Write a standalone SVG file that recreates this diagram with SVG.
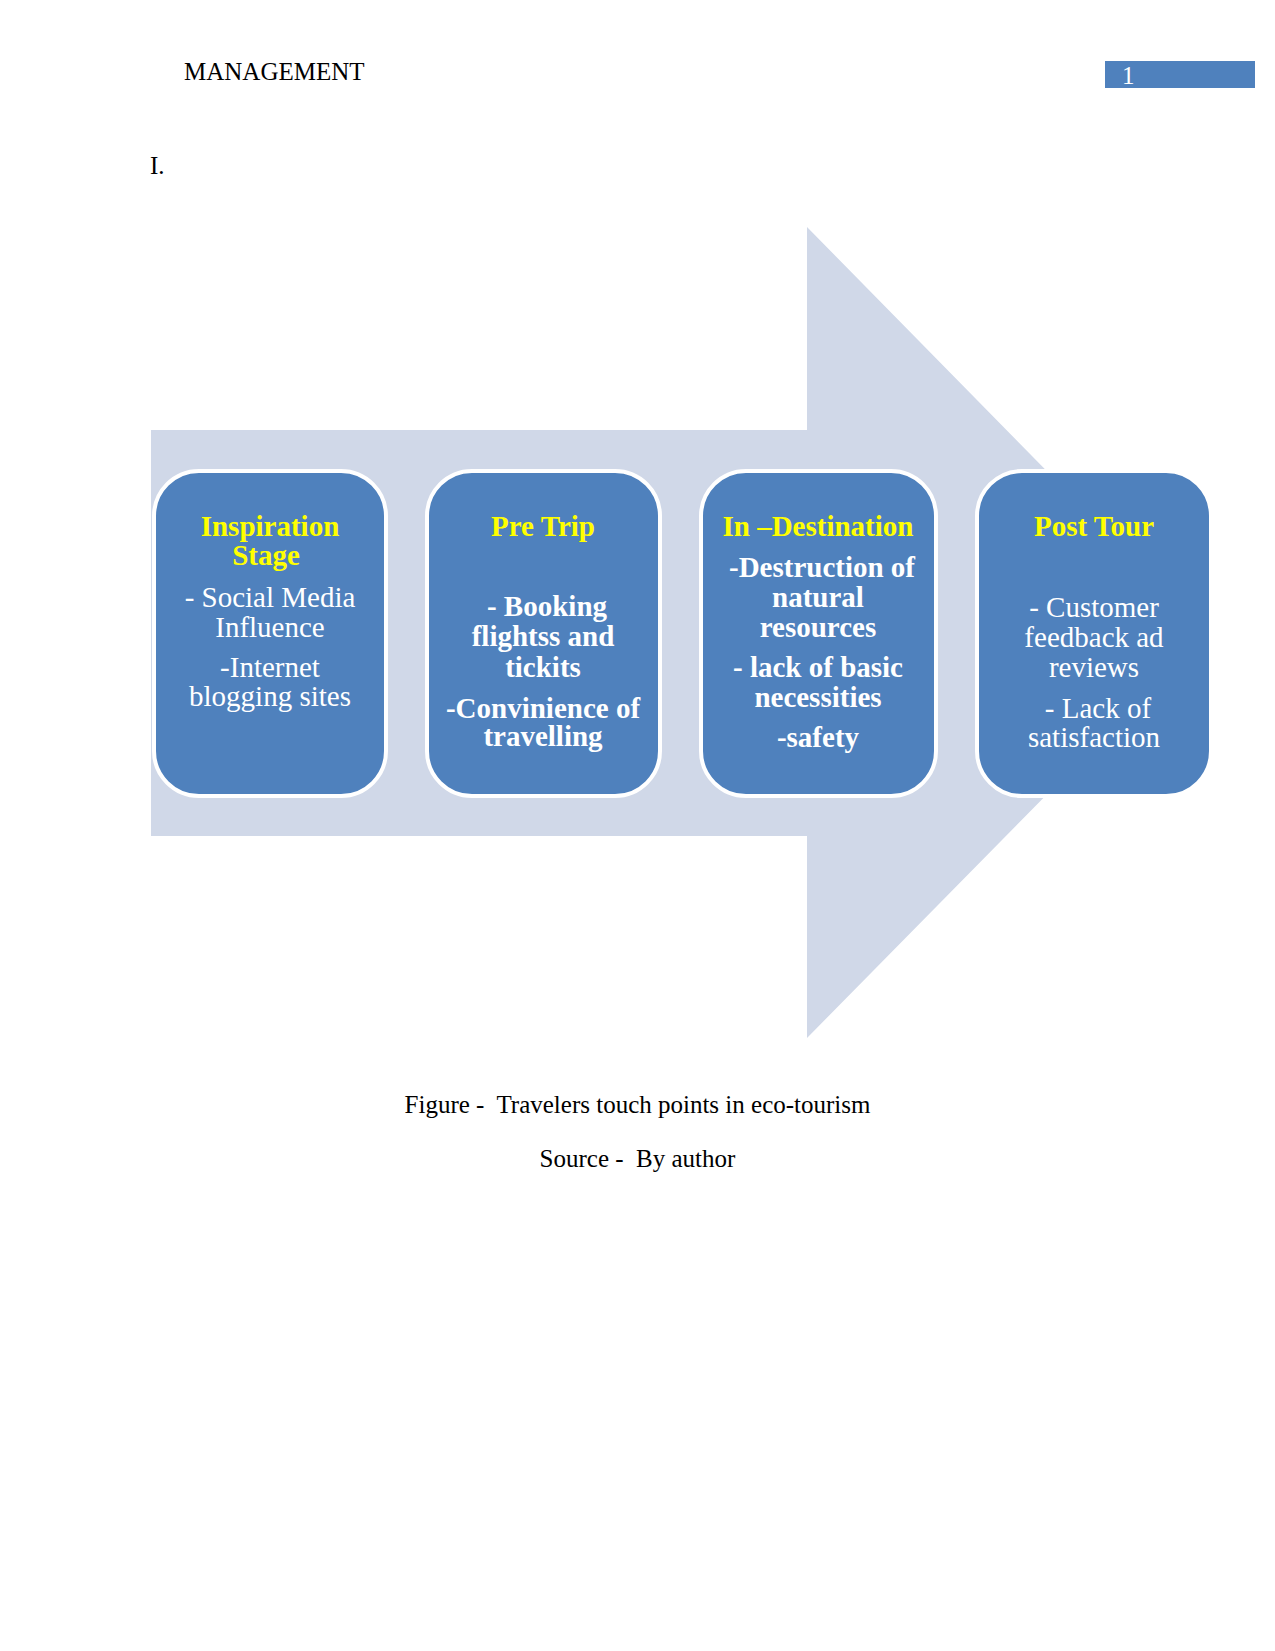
<svg xmlns="http://www.w3.org/2000/svg" width="1275" height="1651" viewBox="0 0 1275 1651">
<style>
.pg{font-family:"Liberation Serif","Times New Roman",serif;font-size:25px;fill:#000;white-space:pre}
.box{fill:#4F81BD;stroke:#FFFFFF;stroke-width:4}
.t{font-family:"Liberation Serif","Times New Roman",serif;font-size:29px;text-anchor:middle;white-space:pre}
.ti{font-weight:bold;fill:#FFFF00}
.b{font-weight:bold;fill:#FFFFFF}
.r{fill:#FFFFFF}
</style>
<rect x="0" y="0" width="1275" height="1651" fill="#FFFFFF"/>
<g id="header">
<text class="pg" x="184" y="80">MANAGEMENT</text>
<rect x="1105" y="61" width="150" height="27" fill="#4F81BD"/>
<text class="pg" x="1122" y="84" style="fill:#FFFFFF">1</text>
<text class="pg" x="150" y="174">I.</text>
</g>
<g id="connectors">
<polygon id="arrow" points="151,430 807,430 807,227 1206,633 807,1038 807,836 151,836" fill="#D0D8E8"/>
</g>
<g id="node-inspiration">
<rect class="box" x="154" y="471" width="232" height="325" rx="45" ry="45"/>
<text class="t ti" x="270" y="536">Inspiration</text>
<text class="t ti" x="266" y="565">Stage</text>
<text class="t r" x="270" y="607">- Social Media</text>
<text class="t r" x="270" y="637">Influence</text>
<text class="t r" x="270" y="677">-Internet</text>
<text class="t r" x="270" y="706">blogging sites</text>
</g>
<g id="node-pretrip">
<rect class="box" x="427" y="471" width="233" height="325" rx="45" ry="45"/>
<text class="t ti" x="543" y="536">Pre Trip</text>
<text class="t b" x="547" y="616">- Booking</text>
<text class="t b" x="543" y="646">flightss and</text>
<text class="t b" x="543" y="677">tickits</text>
<text class="t b" x="543" y="718">-Convinience of</text>
<text class="t b" x="543" y="746">travelling</text>
</g>
<g id="node-indestination">
<rect class="box" x="701" y="471" width="235" height="325" rx="45" ry="45"/>
<text class="t ti" x="818" y="536">In –Destination</text>
<text class="t b" x="822" y="577">-Destruction of</text>
<text class="t b" x="818" y="607">natural</text>
<text class="t b" x="818" y="637">resources</text>
<text class="t b" x="818" y="677">- lack of basic</text>
<text class="t b" x="818" y="707">necessities</text>
<text class="t b" x="818" y="747">-safety</text>
</g>
<g id="node-posttour">
<rect class="box" x="977" y="471" width="234" height="325" rx="45" ry="45"/>
<text class="t ti" x="1094" y="536">Post Tour</text>
<text class="t r" x="1094" y="617">- Customer</text>
<text class="t r" x="1094" y="647">feedback ad</text>
<text class="t r" x="1094" y="677">reviews</text>
<text class="t r" x="1098" y="718">- Lack of</text>
<text class="t r" x="1094" y="747">satisfaction</text>
</g>
<g id="caption">
<text class="pg" x="637.5" y="1113" text-anchor="middle">Figure -  Travelers touch points in eco-tourism</text>
<text class="pg" x="637.5" y="1167" text-anchor="middle">Source -  By author</text>
</g>
</svg>
